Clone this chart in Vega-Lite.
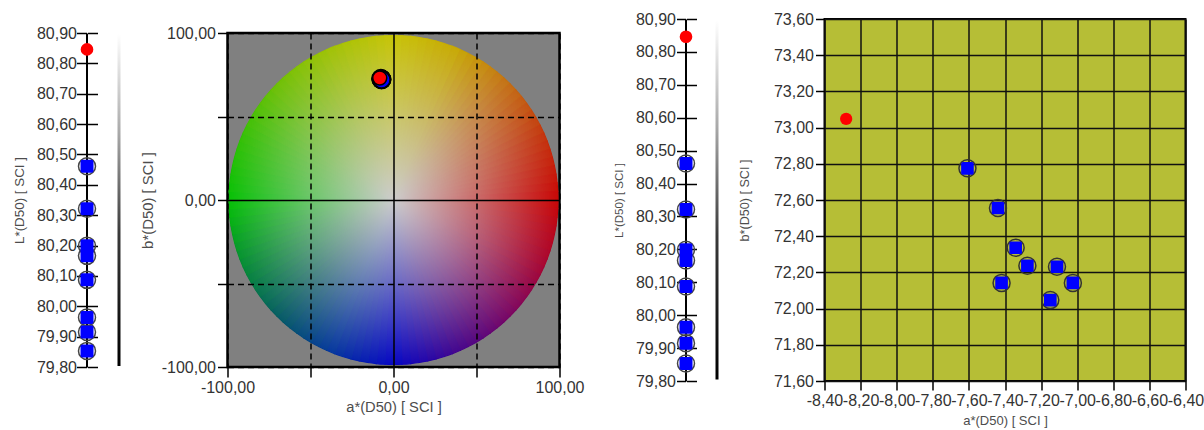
{
  "$schema": "https://vega.github.io/schema/vega-lite/v6.json",
  "background": "#ffffff",
  "autosize": {"type": "none"},
  "padding": {"left": 86.5, "top": 19, "right": 1117.5, "bottom": 411},
  "spacing": 0,
  "bounds": "flush",
  "center": true,
  "datasets": {
    "pts": [
      {"kind": "standard", "L": 80.846, "a": -8.28, "b": 73.048},
      {"kind": "sample", "L": 80.461, "a": -7.608, "b": 72.775},
      {"kind": "sample", "L": 80.321, "a": -7.439, "b": 72.556},
      {"kind": "sample", "L": 80.199, "a": -7.341, "b": 72.336},
      {"kind": "sample", "L": 80.166, "a": -7.276, "b": 72.237},
      {"kind": "sample", "L": 80.087, "a": -7.419, "b": 72.142},
      {"kind": "sample", "L": 79.963, "a": -7.112, "b": 72.231},
      {"kind": "sample", "L": 79.915, "a": -7.024, "b": 72.142},
      {"kind": "sample", "L": 79.853, "a": -7.149, "b": 72.047}
    ],
    "wheel": [
      {"hue": 1.5}, {"hue": 4.5}, {"hue": 7.5}, {"hue": 10.5}, {"hue": 13.5}, {"hue": 16.5}, {"hue": 19.5}, {"hue": 22.5}, {"hue": 25.5}, {"hue": 28.5},
      {"hue": 31.5}, {"hue": 34.5}, {"hue": 37.5}, {"hue": 40.5}, {"hue": 43.5}, {"hue": 46.5}, {"hue": 49.5}, {"hue": 52.5}, {"hue": 55.5}, {"hue": 58.5},
      {"hue": 61.5}, {"hue": 64.5}, {"hue": 67.5}, {"hue": 70.5}, {"hue": 73.5}, {"hue": 76.5}, {"hue": 79.5}, {"hue": 82.5}, {"hue": 85.5}, {"hue": 88.5},
      {"hue": 91.5}, {"hue": 94.5}, {"hue": 97.5}, {"hue": 100.5}, {"hue": 103.5}, {"hue": 106.5}, {"hue": 109.5}, {"hue": 112.5}, {"hue": 115.5}, {"hue": 118.5},
      {"hue": 121.5}, {"hue": 124.5}, {"hue": 127.5}, {"hue": 130.5}, {"hue": 133.5}, {"hue": 136.5}, {"hue": 139.5}, {"hue": 142.5}, {"hue": 145.5}, {"hue": 148.5},
      {"hue": 151.5}, {"hue": 154.5}, {"hue": 157.5}, {"hue": 160.5}, {"hue": 163.5}, {"hue": 166.5}, {"hue": 169.5}, {"hue": 172.5}, {"hue": 175.5}, {"hue": 178.5},
      {"hue": 181.5}, {"hue": 184.5}, {"hue": 187.5}, {"hue": 190.5}, {"hue": 193.5}, {"hue": 196.5}, {"hue": 199.5}, {"hue": 202.5}, {"hue": 205.5}, {"hue": 208.5},
      {"hue": 211.5}, {"hue": 214.5}, {"hue": 217.5}, {"hue": 220.5}, {"hue": 223.5}, {"hue": 226.5}, {"hue": 229.5}, {"hue": 232.5}, {"hue": 235.5}, {"hue": 238.5},
      {"hue": 241.5}, {"hue": 244.5}, {"hue": 247.5}, {"hue": 250.5}, {"hue": 253.5}, {"hue": 256.5}, {"hue": 259.5}, {"hue": 262.5}, {"hue": 265.5}, {"hue": 268.5},
      {"hue": 271.5}, {"hue": 274.5}, {"hue": 277.5}, {"hue": 280.5}, {"hue": 283.5}, {"hue": 286.5}, {"hue": 289.5}, {"hue": 292.5}, {"hue": 295.5}, {"hue": 298.5},
      {"hue": 301.5}, {"hue": 304.5}, {"hue": 307.5}, {"hue": 310.5}, {"hue": 313.5}, {"hue": 316.5}, {"hue": 319.5}, {"hue": 322.5}, {"hue": 325.5}, {"hue": 328.5},
      {"hue": 331.5}, {"hue": 334.5}, {"hue": 337.5}, {"hue": 340.5}, {"hue": 343.5}, {"hue": 346.5}, {"hue": 349.5}, {"hue": 352.5}, {"hue": 355.5}, {"hue": 358.5}
    ]
  },
  "hconcat": [
    {
      "width": 1, "height": 334,
      "data": {"name": "pts"},
      "layer": [
        {
          "transform": [{"filter": "datum.kind == 'sample'"}],
          "mark": {"type": "point", "shape": "circle", "filled": false, "color": "#454545", "strokeWidth": 1.5, "size": 289, "opacity": 1},
          "encoding": {
            "x": {"datum": 0, "type": "quantitative", "scale": {"domain": [-1, 1]}, "axis": null},
            "y": {"field": "L", "type": "quantitative", "scale": {"domain": [79.8, 80.9], "nice": false, "zero": false},
            "axis": {"orient": "left", "values": [79.8, 79.9, 80, 80.1, 80.2, 80.3, 80.4, 80.5, 80.6, 80.7, 80.8, 80.9], "tickCount": 40, "format": ".2f", "tickSize": 10, "tickWidth": 1.5, "domainWidth": 2, "labelPadding": 0, "title": "L*(D50) [ SCI ]", "titleFontSize": 13.4, "titlePadding": 9.5}}}
        },
        {
          "transform": [{"filter": "datum.kind == 'sample'"}],
          "mark": {"type": "point", "shape": "M-0.7,-1L0.7,-1Q1,-1,1,-0.7L1,0.7Q1,1,0.7,1L-0.7,1Q-1,1,-1,0.7L-1,-0.7Q-1,-1,-0.7,-1Z", "filled": true, "color": "#0000ff", "size": 169, "opacity": 1},
          "encoding": {"x": {"datum": 0, "type": "quantitative", "axis": null}, "y": {"field": "L", "type": "quantitative", "axis": null}}
        },
        {
          "transform": [{"filter": "datum.kind == 'standard'"}],
          "mark": {"type": "circle", "color": "#ff0000", "size": 160, "opacity": 1},
          "encoding": {"x": {"datum": 0, "type": "quantitative", "axis": null}, "y": {"field": "L", "type": "quantitative", "axis": null}}
        },
        {
          "mark": {"type": "point", "opacity": 0},
          "encoding": {"x": {"datum": 0, "type": "quantitative", "axis": null}, "y": {"field": "L", "type": "quantitative",
            "axis": {"orient": "right", "values": [79.8, 79.9, 80, 80.1, 80.2, 80.3, 80.4, 80.5, 80.6, 80.7, 80.8, 80.9], "tickCount": 40, "labels": false, "domain": false, "tickSize": 10, "tickWidth": 1.5, "title": null}}}
        }
      ],
      "resolve": {"axis": {"y": "independent"}}
    },
    {"width": 29.5, "height": 1, "data": {"values": []}, "mark": {"type": "point"}},
    {
      "width": 3, "height": 332,
      "data": {"values": [{"legend": "L*"}]},
      "mark": {"type": "rect", "fill": {"gradient": "linear", "x1": 0, "y1": 0, "x2": 0, "y2": 1, "stops": [{"offset": 0, "color": "#ffffff"}, {"offset": 0.3, "color": "#a8a8a8"}, {"offset": 0.6, "color": "#3a3a3a"}, {"offset": 1, "color": "#000000"}]}},
      "encoding": {}
    },
    {"width": 107, "height": 1, "data": {"values": []}, "mark": {"type": "point"}},
    {
      "width": 332, "height": 334,
      "view": {"fill": "#808080", "stroke": "#000000", "strokeWidth": 2.5},
      "layer": [
        {
          "data": {"name": "wheel"},
          "mark": {"type": "arc", "outerRadius": 164.5, "strokeWidth": 1.2},
          "encoding": {
            "x": {"datum": 0, "type": "quantitative"},
            "y": {"datum": 0, "type": "quantitative"},
            "theta": {"aggregate": "count", "type": "quantitative", "stack": true},
            "order": {"field": "hue", "type": "quantitative", "sort": "ascending"},
            "color": {"field": "hue", "type": "quantitative", "legend": null,
              "scale": {"domain": [0, 22.5, 45, 67.5, 90, 112.5, 135, 157.5, 180, 202.5, 225, 247.5, 270, 292.5, 315, 337.5, 360],
                "range": ["#c8c400", "#c8a800", "#c46c10", "#c43008", "#c80000", "#a8002c", "#780060", "#40008c", "#0000c4", "#00349c", "#005a60", "#008c30", "#00c000", "#30c000", "#6cc000", "#a0c200", "#c8c400"], "interpolate": "rgb"}},
            "stroke": {"field": "hue", "type": "quantitative", "legend": null,
              "scale": {"domain": [0, 22.5, 45, 67.5, 90, 112.5, 135, 157.5, 180, 202.5, 225, 247.5, 270, 292.5, 315, 337.5, 360],
                "range": ["#c8c400", "#c8a800", "#c46c10", "#c43008", "#c80000", "#a8002c", "#780060", "#40008c", "#0000c4", "#00349c", "#005a60", "#008c30", "#00c000", "#30c000", "#6cc000", "#a0c200", "#c8c400"], "interpolate": "rgb"}}
          }
        },
        {
          "data": {"values": [{"disc": "chroma"}]},
          "mark": {"type": "arc", "theta": 0, "theta2": 6.2832, "outerRadius": 164.5,
            "fill": {"gradient": "radial", "stops": [{"offset": 0, "color": "rgba(204,204,204,1)"}, {"offset": 0.5, "color": "rgba(204,204,204,0.52)"}, {"offset": 1, "color": "rgba(204,204,204,0.03)"}]}},
          "encoding": {
            "x": {"datum": 0, "type": "quantitative"},
            "y": {"datum": 0, "type": "quantitative"}
          }
        },
        {
          "data": {"name": "pts"},
          "transform": [{"filter": "datum.kind == 'sample'"}],
          "mark": {"type": "circle", "size": 300, "color": "#0000ff", "stroke": "#000000", "strokeWidth": 2, "opacity": 1},
          "encoding": {
            "x": {"field": "a", "type": "quantitative", "scale": {"domain": [-100, 100], "nice": false, "zero": false},
              "axis": {"orient": "bottom", "values": [-100, -50, 0, 50, 100], "tickCount": 40, "format": ".2f", "labelExpr": "datum.value % 100 == 0 ? datum.label : ''", "tickSize": 10, "tickWidth": 1.5, "domain": false, "labelPadding": 2, "grid": true, "gridColor": "#000000", "gridOpacity": 1, "gridWidth": 1.5, "gridDash": {"condition": {"test": "datum.value == 0", "value": []}, "value": [6, 4]}, "zindex": 1, "title": "a*(D50) [ SCI ]", "titleFontSize": 14.7, "titlePadding": 4}},
            "y": {"field": "b", "type": "quantitative", "scale": {"domain": [-100, 100], "nice": false, "zero": false},
              "axis": {"orient": "left", "values": [-100, -50, 0, 50, 100], "tickCount": 40, "format": ".2f", "labelExpr": "datum.value % 100 == 0 ? datum.label : ''", "tickSize": 10, "tickWidth": 1.5, "domain": false, "labelPadding": 2, "grid": true, "gridColor": "#000000", "gridOpacity": 1, "gridWidth": 1.5, "gridDash": {"condition": {"test": "datum.value == 0", "value": []}, "value": [6, 4]}, "zindex": 1, "title": "b*(D50) [ SCI ]", "titleFontSize": 14.9, "titlePadding": 6}}
          }
        },
        {
          "data": {"name": "pts"},
          "transform": [{"filter": "datum.kind == 'standard'"}],
          "mark": {"type": "circle", "size": 196, "color": "#ff0000", "stroke": "#000000", "strokeWidth": 1.5, "opacity": 1},
          "encoding": {
            "x": {"field": "a", "type": "quantitative"},
            "y": {"field": "b", "type": "quantitative"}
          }
        }
      ]
    },
    {"width": 125.5, "height": 1, "data": {"values": []}, "mark": {"type": "point"}},
    {
      "width": 1, "height": 362,
      "data": {"name": "pts"},
      "layer": [
        {
          "transform": [{"filter": "datum.kind == 'sample'"}],
          "mark": {"type": "point", "shape": "circle", "filled": false, "color": "#454545", "strokeWidth": 1.5, "size": 289, "opacity": 1},
          "encoding": {
            "x": {"datum": 0, "type": "quantitative", "scale": {"domain": [-1, 1]}, "axis": null},
            "y": {"field": "L", "type": "quantitative", "scale": {"domain": [79.8, 80.9], "nice": false, "zero": false},
            "axis": {"orient": "left", "values": [79.8, 79.9, 80, 80.1, 80.2, 80.3, 80.4, 80.5, 80.6, 80.7, 80.8, 80.9], "tickCount": 40, "format": ".2f", "tickSize": 9, "tickWidth": 1.5, "domainWidth": 2, "labelPadding": 1, "title": "L*(D50) [ SCI ]", "titleFontSize": 11.5, "titlePadding": 11}}}
        },
        {
          "transform": [{"filter": "datum.kind == 'sample'"}],
          "mark": {"type": "point", "shape": "M-0.7,-1L0.7,-1Q1,-1,1,-0.7L1,0.7Q1,1,0.7,1L-0.7,1Q-1,1,-1,0.7L-1,-0.7Q-1,-1,-0.7,-1Z", "filled": true, "color": "#0000ff", "size": 169, "opacity": 1},
          "encoding": {"x": {"datum": 0, "type": "quantitative", "axis": null}, "y": {"field": "L", "type": "quantitative", "axis": null}}
        },
        {
          "transform": [{"filter": "datum.kind == 'standard'"}],
          "mark": {"type": "circle", "color": "#ff0000", "size": 160, "opacity": 1},
          "encoding": {"x": {"datum": 0, "type": "quantitative", "axis": null}, "y": {"field": "L", "type": "quantitative", "axis": null}}
        },
        {
          "mark": {"type": "point", "opacity": 0},
          "encoding": {"x": {"datum": 0, "type": "quantitative", "axis": null}, "y": {"field": "L", "type": "quantitative",
            "axis": {"orient": "right", "values": [79.8, 79.9, 80, 80.1, 80.2, 80.3, 80.4, 80.5, 80.6, 80.7, 80.8, 80.9], "tickCount": 40, "labels": false, "domain": false, "tickSize": 10, "tickWidth": 1.5, "title": null}}}
        }
      ],
      "resolve": {"axis": {"y": "independent"}}
    },
    {"width": 28.5, "height": 1, "data": {"values": []}, "mark": {"type": "point"}},
    {
      "width": 3, "height": 359,
      "data": {"values": [{"legend": "L*"}]},
      "mark": {"type": "rect", "fill": {"gradient": "linear", "x1": 0, "y1": 0, "x2": 0, "y2": 1, "stops": [{"offset": 0, "color": "#ffffff"}, {"offset": 0.3, "color": "#a8a8a8"}, {"offset": 0.6, "color": "#3a3a3a"}, {"offset": 1, "color": "#000000"}]}},
      "encoding": {}
    },
    {"width": 106, "height": 1, "data": {"values": []}, "mark": {"type": "point"}},
    {
      "width": 361, "height": 362,
      "view": {"fill": "#b6be36", "stroke": "#000000", "strokeWidth": 2},
      "data": {"name": "pts"},
      "layer": [
        {
          "transform": [{"filter": "datum.kind == 'sample'"}],
          "mark": {"type": "point", "shape": "circle", "filled": false, "color": "#333333", "strokeWidth": 1.5, "size": 289, "opacity": 1},
          "encoding": {
            "x": {"field": "a", "type": "quantitative", "scale": {"domain": [-8.4, -6.4], "nice": false, "zero": false},
              "axis": {"orient": "bottom", "values": [-8.4, -8.2, -8, -7.8, -7.6, -7.4, -7.2, -7, -6.8, -6.6, -6.4], "tickCount": 40, "format": ".2f", "tickSize": 9, "tickWidth": 1.5, "domain": false, "labelPadding": 2, "grid": true, "gridColor": "#111111", "gridOpacity": 1, "gridWidth": 1.5, "title": "a*(D50) [ SCI ]", "titleFontSize": 13, "titlePadding": 6}},
            "y": {"field": "b", "type": "quantitative", "scale": {"domain": [71.6, 73.6], "nice": false, "zero": false},
              "axis": {"orient": "left", "values": [71.6, 71.8, 72, 72.2, 72.4, 72.6, 72.8, 73, 73.2, 73.4, 73.6], "tickCount": 40, "format": ".2f", "tickSize": 9, "tickWidth": 1.5, "domain": false, "labelPadding": 2, "grid": true, "gridColor": "#111111", "gridOpacity": 1, "gridWidth": 1.5, "title": "b*(D50) [ SCI ]", "titleFontSize": 12.6, "titlePadding": 22}}
          }
        },
        {
          "transform": [{"filter": "datum.kind == 'sample'"}],
          "mark": {"type": "point", "shape": "M-0.7,-1L0.7,-1Q1,-1,1,-0.7L1,0.7Q1,1,0.7,1L-0.7,1Q-1,1,-1,0.7L-1,-0.7Q-1,-1,-0.7,-1Z", "filled": true, "color": "#0000ff", "size": 160, "opacity": 1},
          "encoding": {
            "x": {"field": "a", "type": "quantitative"},
            "y": {"field": "b", "type": "quantitative"}
          }
        },
        {
          "transform": [{"filter": "datum.kind == 'standard'"}],
          "mark": {"type": "circle", "color": "#ff0000", "size": 150, "opacity": 1},
          "encoding": {
            "x": {"field": "a", "type": "quantitative"},
            "y": {"field": "b", "type": "quantitative"}
          }
        }
      ]
    }
  ],
  "config": {
    "locale": {"number": {"decimal": ",", "thousands": ".", "grouping": [3], "currency": ["", " €"], "minus": "-"}},
    "view": {"stroke": null},
    "font": "Liberation Sans",
    "axis": {"labelFont": "Liberation Sans", "titleFont": "Liberation Sans", "labelFontSize": 16, "labelColor": "#333333", "titleColor": "#4d4d4d", "titleFontWeight": "normal", "tickColor": "#000000", "domainColor": "#000000", "labelOverlap": false, "labelFlush": false, "labelBound": false, "grid": false}
  }
}
